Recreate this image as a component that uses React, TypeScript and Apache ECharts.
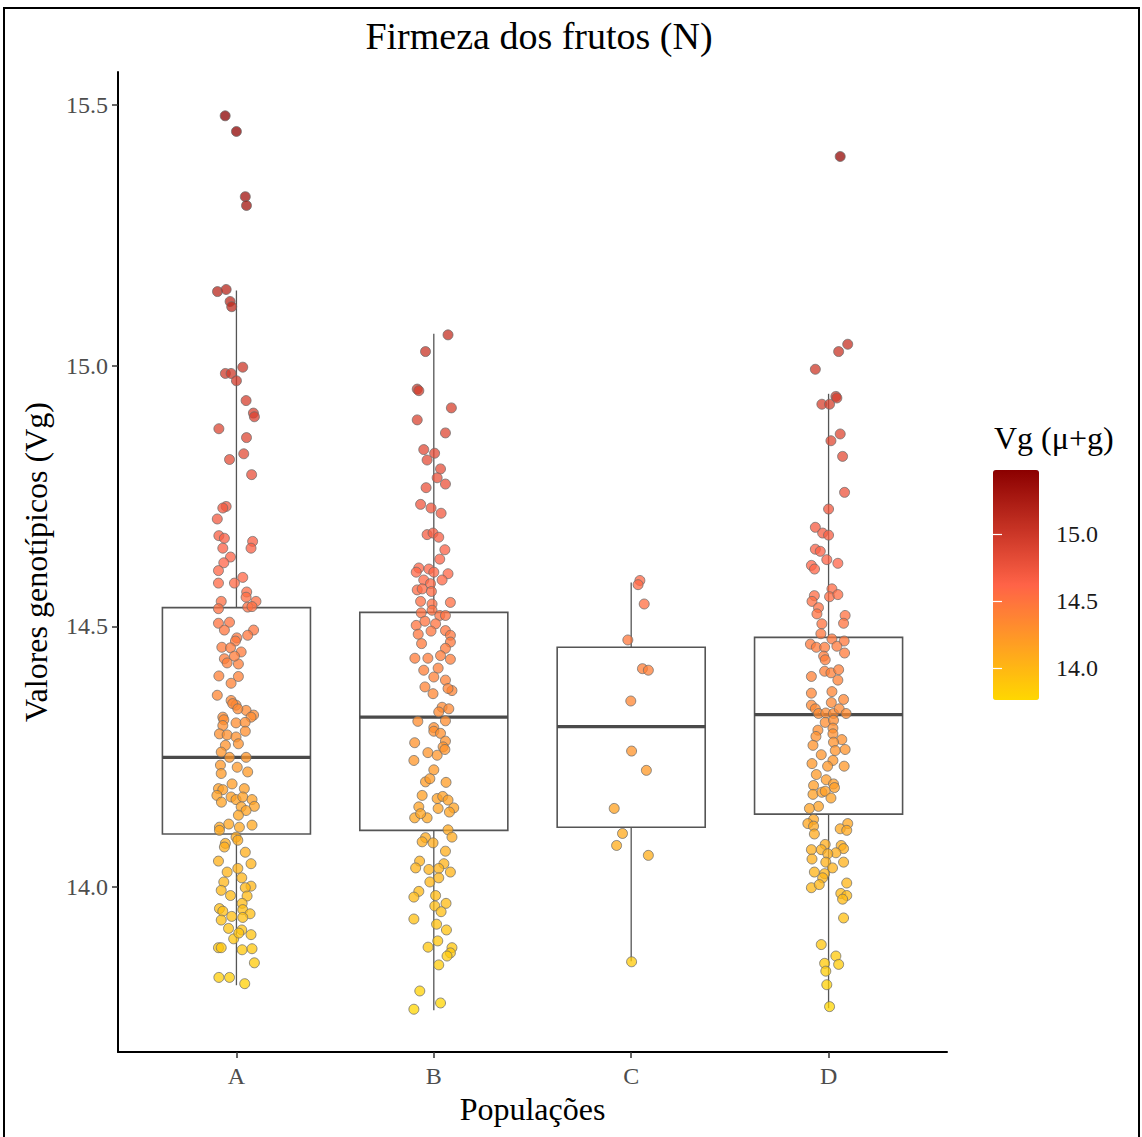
import React, { useEffect, useRef } from "react";
import * as echarts from "echarts";

const categories = ["A", "B", "C", "D"];
const boxLow = [13.812, 13.764, 13.858, 13.768];
const boxQ1 = [14.102, 14.109, 14.115, 14.14];
const boxMedian = [14.249, 14.326, 14.308, 14.331];
const boxQ3 = [14.536, 14.527, 14.46, 14.479];
const boxHigh = [15.144, 15.061, 14.584, 14.946];
const yTicks = [14.0, 14.5, 15.0, 15.5];
const yRange = [13.684, 15.563];
const colorTicks = [14.0, 14.5, 15.0];
const colorRange = [13.761, 15.478];
const gradientColors = ["#FFD700", "#FF6347", "#8B0000"];

// [jitter, value]
const pointsA = [
  [-0.057, 15.479], [0.0, 15.449], [0.045, 15.324], [0.051, 15.307], [-0.096, 15.142], [-0.052, 15.146],
  [-0.032, 15.123], [-0.024, 15.113], [0.032, 14.997], [-0.056, 14.985], [-0.027, 14.985], [0.0, 14.971],
  [0.049, 14.933], [0.086, 14.909], [0.091, 14.902], [-0.089, 14.879], [0.051, 14.862], [0.037, 14.831],
  [-0.035, 14.82], [0.077, 14.791], [-0.052, 14.73], [-0.069, 14.727], [-0.097, 14.706], [-0.089, 14.674],
  [-0.061, 14.669], [-0.069, 14.65], [-0.03, 14.633], [-0.064, 14.622], [0.082, 14.663], [0.074, 14.65],
  [-0.091, 14.607], [-0.091, 14.583], [-0.01, 14.583], [0.032, 14.594], [0.052, 14.566], [0.049, 14.556],
  [0.099, 14.548], [-0.077, 14.548], [-0.091, 14.534], [0.057, 14.537], [0.079, 14.538], [-0.091, 14.506],
  [-0.035, 14.508], [-0.061, 14.493], [0.087, 14.493], [0.057, 14.483], [0.002, 14.478], [-0.005, 14.472],
  [-0.074, 14.46], [-0.03, 14.459], [0.024, 14.451], [-0.061, 14.438], [-0.047, 14.43], [0.01, 14.428],
  [-0.01, 14.443], [-0.089, 14.405], [0.01, 14.404], [-0.027, 14.391], [-0.097, 14.368], [-0.027, 14.358],
  [-0.002, 14.349], [0.049, 14.339], [0.087, 14.33], [-0.069, 14.326], [0.074, 14.326], [-0.019, 14.352],
  [0.007, 14.342], [-0.064, 14.321], [-0.069, 14.31], [-0.002, 14.315], [0.044, 14.316], [-0.086, 14.294],
  [-0.047, 14.292], [-0.002, 14.288], [0.045, 14.299], [0.01, 14.275], [-0.056, 14.272], [-0.077, 14.259],
  [-0.035, 14.249], [0.049, 14.249], [-0.081, 14.234], [0.004, 14.23], [0.057, 14.221], [-0.077, 14.218],
  [-0.022, 14.198], [-0.091, 14.189], [-0.069, 14.187], [0.04, 14.189], [-0.099, 14.176], [-0.027, 14.173],
  [-0.002, 14.168], [0.032, 14.173], [0.079, 14.168], [-0.076, 14.163], [0.091, 14.155], [0.024, 14.154],
  [0.049, 14.147], [0.01, 14.138], [-0.086, 14.115], [-0.039, 14.121], [0.015, 14.115], [0.079, 14.119],
  [-0.086, 14.109], [-0.002, 14.096], [0.007, 14.09], [-0.056, 14.084], [-0.061, 14.077], [0.045, 14.067],
  [-0.091, 14.05], [0.074, 14.045], [0.007, 14.036], [-0.047, 14.029], [-0.064, 14.01], [0.027, 14.018],
  [-0.077, 13.994], [0.074, 14.002], [0.045, 13.999], [-0.03, 13.984], [0.054, 13.983], [0.029, 13.969],
  [-0.086, 13.959], [-0.069, 13.954], [0.032, 13.957], [0.069, 13.949], [-0.024, 13.944], [0.032, 13.942],
  [-0.077, 13.937], [-0.04, 13.921], [0.027, 13.918], [0.074, 13.909], [-0.014, 13.901], [0.012, 13.912],
  [-0.091, 13.884], [-0.077, 13.884], [0.029, 13.88], [0.079, 13.882], [0.091, 13.855], [-0.089, 13.827],
  [-0.035, 13.827], [0.042, 13.815],
];

const pointsB = [
  [0.072, 15.059], [-0.042, 15.027], [-0.084, 14.955], [-0.076, 14.952], [0.089, 14.919], [-0.084, 14.896],
  [0.059, 14.871], [-0.051, 14.839], [0.004, 14.832], [-0.034, 14.819], [0.034, 14.802], [0.017, 14.785],
  [0.059, 14.773], [-0.039, 14.766], [-0.067, 14.734], [-0.014, 14.727], [0.037, 14.717], [-0.034, 14.676],
  [-0.004, 14.679], [0.025, 14.671], [0.056, 14.647], [0.03, 14.629], [-0.076, 14.612], [-0.089, 14.604],
  [-0.025, 14.61], [0.0, 14.604], [0.072, 14.601], [-0.051, 14.589], [0.042, 14.589], [-0.017, 14.582],
  [-0.084, 14.57], [-0.059, 14.572], [-0.012, 14.567], [-0.067, 14.548], [-0.009, 14.543], [0.084, 14.546],
  [-0.064, 14.526], [-0.009, 14.531], [0.03, 14.521], [0.059, 14.521], [-0.089, 14.502], [-0.045, 14.51],
  [0.009, 14.505], [-0.079, 14.485], [-0.014, 14.491], [0.059, 14.492], [0.084, 14.483], [-0.062, 14.467],
  [0.084, 14.47], [0.059, 14.458], [-0.096, 14.439], [-0.03, 14.439], [0.034, 14.444], [0.084, 14.437],
  [-0.051, 14.416], [0.022, 14.42], [0.0, 14.403], [0.059, 14.397], [0.092, 14.377], [-0.045, 14.384],
  [-0.004, 14.371], [0.072, 14.381], [0.042, 14.345], [0.076, 14.342], [0.025, 14.336], [0.059, 14.319],
  [-0.081, 14.318], [0.0, 14.306], [0.0, 14.299], [0.034, 14.295], [-0.097, 14.277], [0.059, 14.28],
  [0.047, 14.269], [-0.03, 14.258], [0.017, 14.253], [0.056, 14.264], [-0.101, 14.243], [0.0, 14.225],
  [-0.042, 14.202], [-0.02, 14.208], [0.062, 14.201], [-0.059, 14.176], [0.017, 14.17], [0.045, 14.174],
  [0.072, 14.167], [-0.076, 14.154], [0.022, 14.151], [0.101, 14.152], [0.079, 14.144], [-0.097, 14.133],
  [-0.034, 14.133], [-0.067, 14.141], [0.072, 14.11], [0.092, 14.096], [-0.042, 14.095], [-0.059, 14.087],
  [-0.004, 14.085], [0.059, 14.069], [-0.072, 14.05], [-0.092, 14.037], [0.051, 14.045], [-0.025, 14.034],
  [0.025, 14.036], [0.084, 14.029], [-0.02, 14.01], [0.025, 14.018], [-0.076, 13.992], [-0.101, 13.981],
  [0.009, 13.984], [0.062, 13.969], [0.005, 13.964], [0.037, 13.953], [-0.101, 13.939], [0.014, 13.929],
  [0.064, 13.918], [0.02, 13.897], [-0.029, 13.885], [0.092, 13.884], [0.084, 13.874], [0.067, 13.868],
  [0.025, 13.851], [-0.071, 13.801], [0.034, 13.778], [-0.101, 13.766],
];

const pointsC = [
  [0.044, 14.588], [0.035, 14.58], [0.066, 14.543], [-0.017, 14.474], [0.057, 14.419], [0.087, 14.416],
  [-0.002, 14.357], [0.002, 14.261], [0.077, 14.224], [-0.086, 14.151], [-0.044, 14.103], [-0.074, 14.08],
  [0.087, 14.061], [0.002, 13.857],
];

const pointsD = [
  [0.059, 15.401], [0.097, 15.041], [0.051, 15.027], [-0.067, 14.993], [0.037, 14.941], [0.042, 14.938],
  [-0.034, 14.926], [0.005, 14.926], [0.059, 14.869], [0.012, 14.856], [0.071, 14.826], [0.081, 14.757],
  [0.0, 14.725], [-0.067, 14.69], [-0.03, 14.679], [0.0, 14.675], [-0.067, 14.648], [-0.042, 14.644],
  [-0.009, 14.628], [0.047, 14.621], [-0.087, 14.617], [-0.071, 14.61], [0.017, 14.572], [0.005, 14.557],
  [0.047, 14.561], [-0.072, 14.559], [-0.084, 14.548], [-0.051, 14.536], [-0.059, 14.524], [0.084, 14.521],
  [0.076, 14.506], [-0.034, 14.505], [-0.039, 14.486], [0.017, 14.476], [0.079, 14.472], [-0.092, 14.466],
  [-0.062, 14.46], [-0.02, 14.46], [0.042, 14.462], [0.081, 14.449], [-0.025, 14.443], [-0.017, 14.436],
  [-0.02, 14.414], [0.012, 14.411], [0.051, 14.417], [0.047, 14.397], [-0.087, 14.404], [-0.087, 14.372],
  [0.017, 14.375], [0.076, 14.36], [0.014, 14.354], [-0.087, 14.349], [-0.067, 14.342], [-0.051, 14.333],
  [-0.014, 14.334], [0.025, 14.333], [0.054, 14.342], [0.089, 14.333], [-0.017, 14.316], [0.025, 14.32],
  [-0.054, 14.301], [0.022, 14.305], [-0.064, 14.289], [0.022, 14.294], [0.067, 14.283], [-0.079, 14.272],
  [0.025, 14.278], [0.034, 14.262], [0.084, 14.264], [-0.037, 14.254], [0.022, 14.243], [-0.084, 14.237],
  [-0.005, 14.232], [0.079, 14.232], [-0.062, 14.216], [-0.012, 14.206], [0.025, 14.198], [-0.076, 14.195],
  [0.03, 14.191], [-0.079, 14.178], [-0.034, 14.182], [-0.017, 14.184], [0.012, 14.171], [-0.051, 14.155],
  [-0.097, 14.151], [-0.076, 14.13], [-0.105, 14.122], [-0.076, 14.117], [0.097, 14.122], [0.059, 14.112],
  [0.092, 14.109], [-0.072, 14.102], [-0.017, 14.082], [0.064, 14.08], [-0.087, 14.072], [-0.037, 14.072],
  [0.076, 14.074], [0.037, 14.066], [-0.004, 14.064], [-0.084, 14.054], [-0.014, 14.048], [0.076, 14.048],
  [0.02, 14.037], [-0.072, 14.029], [-0.02, 14.026], [-0.03, 14.018], [0.092, 14.008], [-0.087, 13.999],
  [-0.047, 14.005], [0.062, 13.988], [0.092, 13.984], [0.071, 13.977], [0.076, 13.941], [-0.037, 13.89],
  [0.037, 13.868], [-0.02, 13.854], [0.051, 13.852], [-0.014, 13.839], [-0.009, 13.813], [0.005, 13.771],
];

const FONT = "Liberation Serif";

export default function App() {
  const ref = useRef<HTMLDivElement>(null);

  useEffect(() => {
    if (!ref.current) return;
    const chart = echarts.init(ref.current, undefined, { renderer: "svg" });

    const groups = [pointsA, pointsB, pointsC, pointsD];
    const scatterData: number[][] = [];
    groups.forEach((g, gi) => g.forEach(([j, v]) => scatterData.push([gi + j, v])));
    const boxData = categories.map((_, i) => [i, boxLow[i], boxQ1[i], boxMedian[i], boxQ3[i], boxHigh[i]]);
    const halfW = 0.375;

    const colorAxisCommon = {
      gridIndex: 1,
      type: "value",
      min: colorRange[0],
      max: colorRange[1],
      z: 10,
      axisLine: { show: false },
      splitLine: { show: false },
      axisTick: {
        show: true,
        inside: true,
        length: 9,
        customValues: colorTicks,
        lineStyle: { color: "#ffffff", width: 1.2 },
      },
    };

    chart.setOption({
      animation: false,
      backgroundColor: "#ffffff",
      title: {
        text: "Firmeza dos frutos (N)",
        left: 534,
        top: 12,
        textAlign: "center",
        textStyle: { fontFamily: FONT, fontSize: 38, fontWeight: "normal", color: "#000" },
      },
      grid: [
        { left: 118, right: 195, top: 72, bottom: 85, containLabel: false, outerBoundsMode: "none" },
        { left: 993, top: 470, width: 46, height: 230, containLabel: false, outerBoundsMode: "none" },
      ],
      xAxis: [
        {
          type: "value",
          gridIndex: 0,
          min: -0.6,
          max: 3.6,
          name: "Populações",
          nameLocation: "middle",
          nameGap: 40,
          nameTextStyle: { fontFamily: FONT, fontSize: 32, color: "#000" },
          axisLine: { show: true, onZero: false, lineStyle: { color: "#000", width: 2 } },
          axisTick: { show: true, length: 6, customValues: [0, 1, 2, 3], lineStyle: { color: "#333", width: 1.5 } },
          axisLabel: {
            show: true,
            customValues: [0, 1, 2, 3],
            formatter: (v: number) => categories[Math.round(v)] ?? "",
            fontFamily: FONT,
            fontSize: 24,
            color: "#4d4d4d",
            margin: 12,
          },
          splitLine: { show: false },
        },
        { type: "value", gridIndex: 1, min: 0, max: 1, show: false },
      ],
      yAxis: [
        {
          type: "value",
          gridIndex: 0,
          min: yRange[0],
          max: yRange[1],
          name: "Valores genotípicos (Vg)",
          nameLocation: "middle",
          nameGap: 66,
          nameRotate: 90,
          nameTextStyle: { fontFamily: FONT, fontSize: 32, color: "#000" },
          axisLine: { show: true, onZero: false, lineStyle: { color: "#000", width: 2 } },
          axisTick: { show: true, length: 6, customValues: yTicks, lineStyle: { color: "#333", width: 1.5 } },
          axisLabel: {
            show: true,
            customValues: yTicks,
            formatter: (v: number) => v.toFixed(1),
            fontFamily: FONT,
            fontSize: 24,
            color: "#4d4d4d",
            margin: 10,
          },
          splitLine: { show: false },
        },
        {
          ...colorAxisCommon,
          position: "right",
          axisLabel: {
            show: true,
            customValues: colorTicks,
            formatter: (v: number) => v.toFixed(1),
            fontFamily: FONT,
            fontSize: 24,
            color: "#1a1a1a",
            margin: 17,
          },
        },
        {
          ...colorAxisCommon,
          position: "left",
          axisLabel: { show: false },
        },
      ],
      visualMap: {
        type: "continuous",
        show: true,
        seriesIndex: 1,
        dimension: 1,
        min: colorRange[0],
        max: colorRange[1],
        orient: "vertical",
        left: 993,
        top: 470,
        itemWidth: 46,
        itemHeight: 230,
        padding: 0,
        calculable: false,
        hoverLink: false,
        inRange: { color: gradientColors },
      },
      graphic: [
        {
          type: "rect",
          shape: { x: 4, y: 8, width: 1135, height: 1140 },
          style: { fill: "none", stroke: "#000", lineWidth: 2 },
          silent: true,
        },
        {
          type: "text",
          left: 994,
          top: 422,
          style: { text: "Vg (μ+g)", fontFamily: FONT, fontSize: 32, fill: "#000" },
        },
      ],
      series: [
        {
          type: "custom",
          xAxisIndex: 0,
          yAxisIndex: 0,
          z: 2,
          data: boxData,
          encode: { x: 0, y: [1, 2, 3, 4, 5] },
          renderItem: (params: any, api: any) => {
            const x = api.value(0);
            const lo = api.value(1);
            const q1 = api.value(2);
            const med = api.value(3);
            const q3 = api.value(4);
            const hi = api.value(5);
            const pHi = api.coord([x, hi]);
            const pQ3 = api.coord([x, q3]);
            const pQ1 = api.coord([x, q1]);
            const pLo = api.coord([x, lo]);
            const left = api.coord([x - halfW, q3]);
            const right = api.coord([x + halfW, q1]);
            const mL = api.coord([x - halfW, med]);
            const mR = api.coord([x + halfW, med]);
            const stroke = "#555555";
            return {
              type: "group",
              children: [
                { type: "line", shape: { x1: pHi[0], y1: pHi[1], x2: pQ3[0], y2: pQ3[1] }, style: { stroke, lineWidth: 1.3 } },
                { type: "line", shape: { x1: pQ1[0], y1: pQ1[1], x2: pLo[0], y2: pLo[1] }, style: { stroke, lineWidth: 1.3 } },
                {
                  type: "rect",
                  shape: { x: left[0], y: left[1], width: right[0] - left[0], height: right[1] - left[1] },
                  style: { fill: "#ffffff", stroke, lineWidth: 1.6 },
                },
                { type: "line", shape: { x1: mL[0], y1: mL[1], x2: mR[0], y2: mR[1] }, style: { stroke: "#4a4a4a", lineWidth: 3.2 } },
              ],
            };
          },
        },
        {
          type: "scatter",
          xAxisIndex: 0,
          yAxisIndex: 0,
          z: 3,
          symbol: "circle",
          symbolSize: 10,
          data: scatterData,
          itemStyle: { opacity: 0.75, borderColor: "#6b6b6b", borderWidth: 1 },
        },
      ],
    });

    return () => chart.dispose();
  }, []);

  return (
    <div
      ref={ref}
      style={{ position: "fixed", left: 0, top: 0, width: 1142, height: 1137, background: "#fff" }}
    />
  );
}
